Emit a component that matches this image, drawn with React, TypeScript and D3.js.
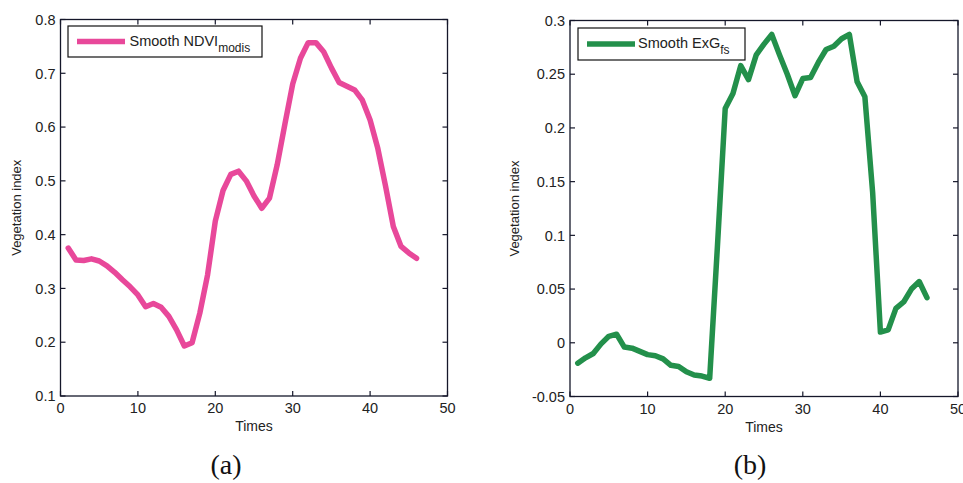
import React from "react";
import * as d3 from "d3";

const times: number[] = Array.from({ length: 46 }, (_, i) => i + 1);

const ndviModis: number[] = [
  0.375, 0.353, 0.352, 0.355, 0.351, 0.342, 0.330, 0.316, 0.303, 0.288,
  0.266, 0.272, 0.265, 0.248, 0.223, 0.193, 0.199, 0.254, 0.325, 0.425,
  0.482, 0.512, 0.518, 0.500, 0.472, 0.449, 0.468, 0.530, 0.606, 0.680,
  0.728, 0.757, 0.757, 0.740, 0.710, 0.683, 0.676, 0.669, 0.650, 0.613,
  0.560, 0.490, 0.415, 0.378, 0.366, 0.356,
];

const exgFs: number[] = [
  -0.019, -0.014, -0.010, -0.001, 0.006, 0.008, -0.004, -0.005, -0.008, -0.011,
  -0.012, -0.015, -0.021, -0.022, -0.027, -0.030, -0.031, -0.033, 0.090, 0.218,
  0.232, 0.258, 0.245, 0.268, 0.278, 0.287, 0.268, 0.250, 0.230, 0.246,
  0.247, 0.261, 0.273, 0.276, 0.283, 0.287, 0.243, 0.229, 0.140, 0.010,
  0.012, 0.032, 0.038, 0.050, 0.057, 0.042,
];

const xTicks: number[] = [0, 10, 20, 30, 40, 50];
const yTicksA: number[] = [0.1, 0.2, 0.3, 0.4, 0.5, 0.6, 0.7, 0.8];
const yTicksB: number[] = [-0.05, 0, 0.05, 0.1, 0.15, 0.2, 0.25, 0.3];
const yLabelsA: string[] = ["0.1", "0.2", "0.3", "0.4", "0.5", "0.6", "0.7", "0.8"];
const yLabelsB: string[] = ["-0.05", "0", "0.05", "0.1", "0.15", "0.2", "0.25", "0.3"];

const FONT = "'Liberation Sans', Arial, Helvetica, sans-serif";
const AXIS = "#15172a";

type PanelProps = {
  left: number;
  right: number;
  top: number;
  bottom: number;
  yDomain: [number, number];
  yTicks: number[];
  yLabels: string[];
  values: number[];
  color: string;
  legendMain: string;
  legendSub: string;
  legendBox: [number, number, number, number];
  legendTextX: number;
  yLabelX: number;
  caption: string;
  captionX: number;
};

function Panel(p: PanelProps) {
  const x = d3.scaleLinear().domain([0, 50]).range([p.left, p.right]);
  const y = d3.scaleLinear().domain(p.yDomain).range([p.bottom, p.top]);
  const line = d3
    .line<number>()
    .x((_, i) => x(times[i]))
    .y((d) => y(d));
  const tl = 5;
  const [lx, ly, lw, lh] = p.legendBox;
  const midY = (p.top + p.bottom) / 2;
  return (
    <g>
      <path
        d={line(p.values) || ""}
        fill="none"
        stroke={p.color}
        strokeWidth={5.5}
        strokeLinejoin="round"
        strokeLinecap="round"
      />
      <rect
        x={p.left}
        y={p.top}
        width={p.right - p.left}
        height={p.bottom - p.top}
        fill="none"
        stroke={AXIS}
        strokeWidth={1.3}
      />
      {xTicks.map((t) => (
        <g key={"x" + t}>
          <line x1={x(t)} x2={x(t)} y1={p.bottom} y2={p.bottom - tl} stroke={AXIS} strokeWidth={1.2} />
          <line x1={x(t)} x2={x(t)} y1={p.top} y2={p.top + tl} stroke={AXIS} strokeWidth={1.2} />
          <text
            x={x(t)}
            y={p.bottom + 17}
            textAnchor="middle"
            fontFamily={FONT}
            fontSize={14.5}
            fill="#222"
          >
            {t}
          </text>
        </g>
      ))}
      {p.yTicks.map((t, i) => (
        <g key={"y" + i}>
          <line x1={p.left} x2={p.left + tl} y1={y(t)} y2={y(t)} stroke={AXIS} strokeWidth={1.2} />
          <line x1={p.right} x2={p.right - tl} y1={y(t)} y2={y(t)} stroke={AXIS} strokeWidth={1.2} />
          <text
            x={p.left - 5}
            y={y(t)}
            dy="0.36em"
            textAnchor="end"
            fontFamily={FONT}
            fontSize={14.5}
            fill="#222"
          >
            {p.yLabels[i]}
          </text>
        </g>
      ))}
      <text
        x={(p.left + p.right) / 2}
        y={p.bottom + 35}
        textAnchor="middle"
        fontFamily={FONT}
        fontSize={14}
        fill="#222"
      >
        Times
      </text>
      <text
        transform={`translate(${p.yLabelX},${midY}) rotate(-90)`}
        textAnchor="middle"
        fontFamily={FONT}
        fontSize={13}
        fill="#222"
      >
        Vegetation index
      </text>
      <rect x={lx} y={ly} width={lw} height={lh} fill="#fff" stroke="#111" strokeWidth={1.2} />
      <line
        x1={lx + 9}
        x2={lx + 57}
        y1={ly + lh / 2}
        y2={ly + lh / 2}
        stroke={p.color}
        strokeWidth={5.5}
      />
      <text x={p.legendTextX} y={ly + 19.5} fontFamily={FONT} fontSize={14.5} fill="#222">
        {p.legendMain}
        <tspan fontSize={12} dy={6.5}>
          {p.legendSub}
        </tspan>
      </text>
      <text
        x={p.captionX}
        y={474}
        textAnchor="middle"
        fontFamily="'Liberation Serif', 'Times New Roman', serif"
        fontSize={28}
        fill="#111"
      >
        {p.caption}
      </text>
    </g>
  );
}

export default function App() {
  return (
    <svg
      width={963}
      height={483}
      style={{ position: "absolute", left: 0, top: 0, background: "#fff" }}
    >
      <rect x={0} y={0} width={963} height={483} fill="#fff" />
      <Panel
        left={60.5}
        right={447.5}
        top={19.5}
        bottom={396}
        yDomain={[0.1, 0.8]}
        yTicks={yTicksA}
        yLabels={yLabelsA}
        values={ndviModis}
        color="#e8489a"
        legendMain="Smooth NDVI"
        legendSub="modis"
        legendBox={[68, 26, 194, 31]}
        legendTextX={129.5}
        yLabelX={21}
        caption="(a)"
        captionX={226}
      />
      <Panel
        left={570}
        right={958}
        top={20.5}
        bottom={396.5}
        yDomain={[-0.05, 0.3]}
        yTicks={yTicksB}
        yLabels={yLabelsB}
        values={exgFs}
        color="#23904b"
        legendMain="Smooth ExG"
        legendSub="fs"
        legendBox={[578, 28, 167, 32]}
        legendTextX={638}
        yLabelX={519}
        caption="(b)"
        captionX={750}
      />
    </svg>
  );
}
